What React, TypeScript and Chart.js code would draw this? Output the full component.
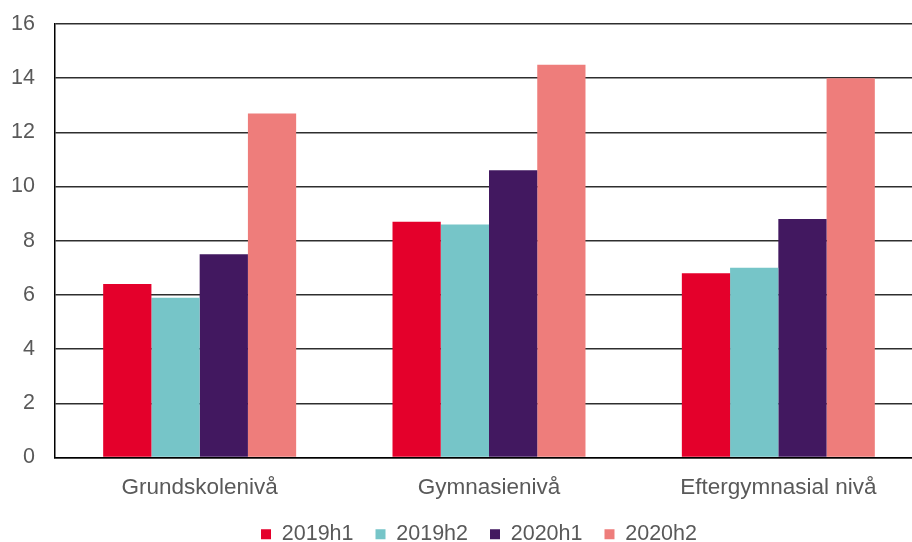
import React, { useEffect, useRef } from "react";
import { Chart, registerables } from "chart.js";

Chart.register(...registerables);

const categories = ["Grundskolenivå", "Gymnasienivå", "Eftergymnasial nivå"];
const seriesNames = ["2019h1", "2019h2", "2020h1", "2020h2"];
const s2019h1 = [6.4, 8.7, 6.8];
const s2019h2 = [5.9, 8.6, 7.0];
const s2020h1 = [7.5, 10.6, 8.8];
const s2020h2 = [12.7, 14.5, 14.0];
const seriesColors = ["#E4002B", "#76C5C8", "#421860", "#EE7D7B"];
const yMin = 0;
const yMax = 16;
const yStep = 2;

const legendShift = {
  id: "legendShift",
  afterLayout(chart: any) {
    const lg = chart.legend;
    if (lg) {
      lg.right -= 20;
    }
  },
};

export default function App() {
  const ref = useRef<HTMLCanvasElement | null>(null);

  useEffect(() => {
    document.body.style.margin = "0";
    const canvas = ref.current;
    if (!canvas) return;
    const values = [s2019h1, s2019h2, s2020h1, s2020h2];
    const family = "'Liberation Sans', Arial, sans-serif";
    const chart = new Chart(canvas, {
      type: "bar",
      data: {
        labels: categories,
        datasets: seriesNames.map((name, i) => ({
          label: name,
          data: values[i],
          backgroundColor: seriesColors[i],
          borderWidth: 0,
          categoryPercentage: 0.667,
          barPercentage: 1.0,
        })),
      },
      plugins: [legendShift],
      options: {
        responsive: false,
        animation: false,
        layout: { padding: { top: 24, right: 0, bottom: 0, left: 0 } },
        plugins: {
          tooltip: { enabled: false },
          legend: {
            position: "bottom",
            fullSize: false,
            maxHeight: 40.5,
            labels: {
              boxWidth: 10,
              boxHeight: 10,
              padding: 22,
              color: "#595959",
              font: { family, size: 21.5 },
            },
          },
        },
        scales: {
          x: {
            afterFit: (s: any) => {
              s.height = 44;
            },
            grid: { display: false, drawTicks: false },
            border: { display: true, color: "#000000", width: 1.5 },
            ticks: { color: "#595959", font: { family, size: 22.5 }, padding: 17 },
          },
          y: {
            min: yMin,
            max: yMax,
            afterFit: (s: any) => {
              s.width = 55;
              s.paddingTop = 0;
              s.paddingBottom = 0;
            },
            grid: { color: "#2e2e2e", lineWidth: 1.4, drawTicks: false },
            border: { display: true, color: "#000000", width: 1.5 },
            ticks: { stepSize: yStep, color: "#595959", font: { family, size: 21.5 }, padding: 20 },
          },
        },
      },
    });
    return () => chart.destroy();
  }, []);

  return (
    <div style={{ width: 912, height: 542, overflow: "hidden" }}>
      <canvas ref={ref} width={923} height={542} style={{ display: "block" }} />
    </div>
  );
}
